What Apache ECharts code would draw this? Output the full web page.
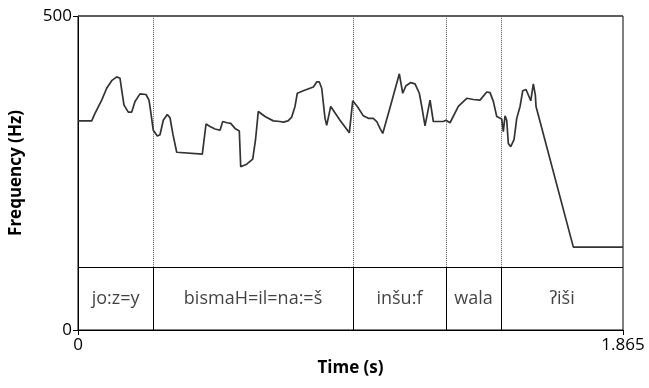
<!DOCTYPE html>
<html><head><meta charset="utf-8">
<script src="https://cdn.jsdelivr.net/npm/echarts@6/dist/echarts.min.js"></script>
<style>html,body{margin:0;padding:0;background:#fff}#c{width:649px;height:388px}</style>
</head><body><div id="c"></div>
<script>
// Pitch track (time in s, frequency in Hz)
const times = [0,0.0469,0.0582,0.0811,0.0982,0.1153,0.1324,0.1437,0.1496,0.1574,0.1721,0.1838,0.1951,0.2122,0.2327,0.2430,0.2481,0.2577,0.2714,0.2806,0.2919,0.3056,0.3149,0.3251,0.3378,0.4254,0.4381,0.4517,0.4689,0.4860,0.4952,0.5099,0.5226,0.5373,0.5520,0.5568,0.5773,0.5979,0.6075,0.6170,0.6400,0.6684,0.6913,0.7026,0.7187,0.7313,0.7426,0.7505,0.7710,0.8053,0.8169,0.8258,0.8340,0.8453,0.8511,0.8648,0.8966,0.9285,0.9401,0.9559,0.9764,0.9935,1.0106,1.0222,1.0335,1.0428,1.0712,1.0996,1.1112,1.1225,1.1386,1.1533,1.1680,1.1763,1.1875,1.2047,1.2160,1.2502,1.2594,1.2731,1.3015,1.3303,1.3529,1.3758,1.3987,1.4100,1.4213,1.4329,1.4500,1.4555,1.4613,1.4671,1.4726,1.4808,1.4921,1.5014,1.5127,1.5219,1.5332,1.5493,1.5582,1.5650,1.5674,1.6951,1.865];
const freqs = [333,333,345,366,385,397,403,401,382,358,347,347,364,376,375,366,350,318,309,311,334,343,338,311,283,280,328,324,320,318,332,330,329,321,317,260,264,272,303,348,340,333,332,331,333,339,356,377,381,387,395,395,385,337,326,356,334,314,365,356,341,337,337,332,321,313,360,408,377,389,394,392,377,356,325,366,332,332,334,330,356,369,367,366,379,378,364,340,336,316,341,334,297,292,303,337,356,381,383,365,392,374,356,132,132];
// Text tier
const tierEdges = [0, 0.257, 0.941, 1.259, 1.448, 1.865];
const tierLabels = ['jo:z=y', 'bismaH=il=na:=š', 'inšu:f', 'wala', 'ʔiši'];
const tierTop = 100;
const yMax = 500;
const xMax = 1.865;

const pitchData = times.map((t, i) => [t, freqs[i]]);
const labelData = tierLabels.map((s, i) => ({value: [(tierEdges[i] + tierEdges[i + 1]) / 2, tierTop / 2], name: s}));
const inner = tierEdges.slice(1, -1);
const dotted = inner.map(b => [{coord: [b, tierTop]}, {coord: [b, yMax]}]);
const solid = inner.map(b => [{coord: [b, 0]}, {coord: [b, tierTop]}]);

const font = '"Open Sans", "Noto Sans", sans-serif';
const chart = echarts.init(document.getElementById('c'), null, {renderer: 'canvas'});
chart.setOption({
  animation: false,
  backgroundColor: '#fff',
  grid: {left: 78, right: 26, top: 16, bottom: 58, show: true, borderColor: '#000', borderWidth: 1},
  xAxis: {
    type: 'value', min: 0, max: xMax, interval: xMax,
    name: 'Time (s)', nameLocation: 'middle', nameGap: 30,
    nameTextStyle: {fontFamily: font, fontWeight: 'bold', fontSize: 17, color: '#000'},
    axisLine: {lineStyle: {color: '#000', width: 1}},
    axisTick: {show: true, length: 5, lineStyle: {color: '#000'}},
    axisLabel: {fontFamily: font, fontSize: 17, color: '#000', margin: 7,
      formatter: v => (Math.abs(v - xMax) < 1e-9 ? '1.865' : String(v))},
    splitLine: {show: false}
  },
  yAxis: {
    type: 'value', min: 0, max: yMax, interval: yMax,
    name: 'Frequency (Hz)', nameLocation: 'middle', nameGap: 53,
    nameTextStyle: {fontFamily: font, fontWeight: 'bold', fontSize: 17, color: '#000'},
    axisLine: {show: true, lineStyle: {color: '#000', width: 1}},
    axisTick: {show: true, length: 5, lineStyle: {color: '#000'}},
    axisLabel: {fontFamily: font, fontSize: 17, color: '#000', margin: 6},
    splitLine: {show: false}
  },
  series: [
    {
      type: 'line', data: pitchData, showSymbol: false, symbol: 'none',
      lineStyle: {color: '#333', width: 1.7}, z: 5,
      markLine: {
        silent: true, symbol: 'none', label: {show: false},
        data: [
          ...dotted.map(d => [Object.assign({lineStyle: {type: 'dotted', color: '#555', width: 1}}, d[0]), d[1]]),
          ...solid.map(d => [Object.assign({lineStyle: {type: 'solid', color: '#000', width: 1}}, d[0]), d[1]]),
          [{coord: [0, tierTop], lineStyle: {type: 'solid', color: '#000', width: 1}}, {coord: [xMax, tierTop]}],
          [{coord: [0, yMax], lineStyle: {type: 'solid', color: '#555', width: 1.5}}, {coord: [xMax, yMax]}]
        ]
      }
    },
    {
      type: 'scatter', data: labelData, symbolSize: 0, silent: true,
      label: {show: true, position: 'inside', formatter: p => p.name,
        fontFamily: font, fontSize: 18, color: '#111'}
    }
  ]
});
</script>
</body></html>
